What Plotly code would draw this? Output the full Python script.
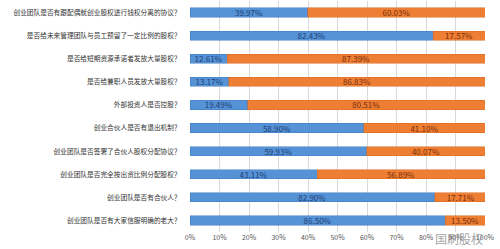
import plotly.graph_objects as go

categories = [
    "创业团队是否有跟配偶就创业股权进行钱权分离的协议？",
    "是否给未来管理团队与员工预留了一定比例的股权？",
    "是否给短期资源承诺者发放大量股权？",
    "是否给兼职人员发放大量股权？",
    "外部投资人是否控股？",
    "创业合伙人是否有退出机制？",
    "创业团队是否签署了合伙人股权分配协议？",
    "创业团队是否完全按出资比例分配股权？",
    "创业团队是否有合伙人？",
    "创业团队是否有大家信服明确的老大？",
]
yes_values = [39.97, 82.43, 12.61, 13.17, 19.49, 58.90, 59.93, 43.11, 82.90, 86.50]
no_values = [60.03, 17.57, 87.39, 86.83, 80.51, 41.10, 40.07, 56.89, 17.71, 13.50]
tick_vals = [0, 10, 20, 30, 40, 50, 60, 70, 80, 90, 100]
tick_text = [f"{v}%" for v in tick_vals]

font_family = "Noto Sans CJK SC"

fig = go.Figure()
fig.add_trace(go.Bar(
    y=categories, x=yes_values, orientation="h", name="是",
    marker=dict(color="#5592D6", line=dict(color="#3F7CC2", width=0.5)),
    text=[f"{v:.2f}%" for v in yes_values], textposition="inside",
    insidetextanchor="middle",
    textfont=dict(color="#1F3F73", size=8, family=font_family),
))
fig.add_trace(go.Bar(
    y=categories, x=no_values, orientation="h", name="否",
    marker=dict(color="#EE7E33", line=dict(color="#D86A20", width=0.5)),
    text=[f"{v:.2f}%" for v in no_values], textposition="inside",
    insidetextanchor="middle",
    textfont=dict(color="#7A2E0A", size=8, family=font_family),
))

fig.update_layout(
    width=500, height=249,
    margin=dict(l=190, r=15, t=1, b=17),
    barmode="stack", bargap=0.6,
    showlegend=False,
    plot_bgcolor="white", paper_bgcolor="white",
    font=dict(family=font_family, size=8, color="#333333"),
    uniformtext=dict(mode="show", minsize=7),
    xaxis=dict(
        range=[0, 100], tickvals=tick_vals, ticktext=tick_text,
        showgrid=True, gridcolor="#D9D9D9", gridwidth=1,
        zeroline=False, showline=False, ticks="", automargin=False,
        tickfont=dict(size=7, color="#555555"),
    ),
    yaxis=dict(
        categoryorder="array", categoryarray=categories, autorange="reversed",
        showgrid=False, showline=False, ticks="outside", ticklen=7,
        tickcolor="rgba(0,0,0,0)", automargin=False,
        tickfont=dict(size=6.7, color="#333333"),
    ),
)

fig.add_annotation(
    x=1.0, y=0, xref="paper", yref="paper", xanchor="right", yanchor="top",
    yshift=4, text="国刷股权", showarrow=False,
    font=dict(size=12, color="rgba(120,120,120,0.7)", family=font_family),
)

fig.write_html("out.html")
